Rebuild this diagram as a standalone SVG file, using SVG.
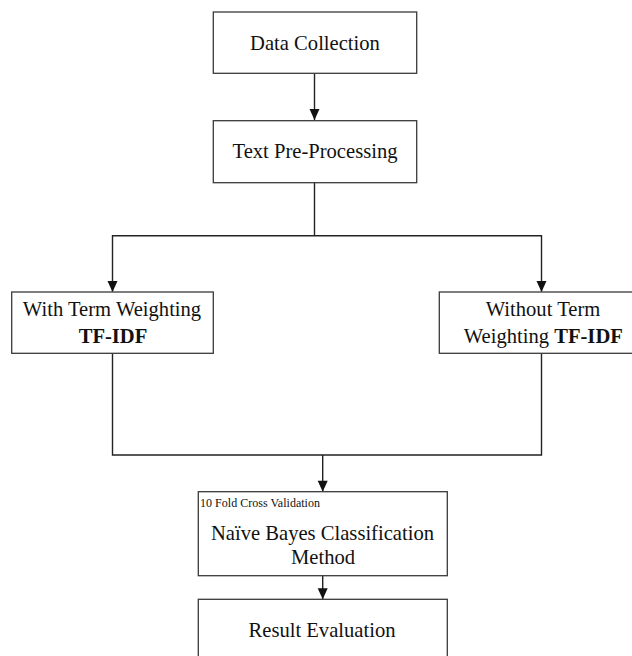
<svg xmlns="http://www.w3.org/2000/svg" width="632" height="656" viewBox="0 0 632 656">
<style>
.box{fill:#fff;stroke:#3a3a3a;stroke-width:1.3}
.t{font-family:"Liberation Serif","Times New Roman",serif;font-size:20.6px;fill:#111;text-anchor:middle}
.b{font-weight:bold}
.s{font-family:"Liberation Serif","Times New Roman",serif;font-size:12px;fill:#111}
.c{fill:none;stroke:#222;stroke-width:1.4}
</style>
<defs>
<marker id="ah" markerWidth="10" markerHeight="11" refX="5" refY="11" orient="auto-start-reverse" markerUnits="userSpaceOnUse" viewBox="0 0 10 11">
<path d="M0,0 L10,0 L5,11 Z" fill="#111" transform="rotate(0)"/>
</marker>
</defs>
<rect width="632" height="656" fill="#fff"/>
<g id="connectors">
<line class="c" x1="314.5" y1="73.3" x2="314.5" y2="120"/>
<path d="M314.5,120 l-5,-11 h10 z" fill="#111"/>
<polyline class="c" points="314.5,182.7 314.5,235.7"/>
<polyline class="c" points="112.5,291.5 112.5,235.7 541.5,235.7 541.5,291.5"/>
<path d="M112.5,292 l-5,-11 h10 z" fill="#111"/>
<path d="M541.5,292 l-5,-11 h10 z" fill="#111"/>
<polyline class="c" points="112.5,353.3 112.5,455 541.5,455 541.5,353.3"/>
<line class="c" x1="322.7" y1="455" x2="322.7" y2="491"/>
<path d="M322.7,491.7 l-5,-11 h10 z" fill="#111"/>
<line class="c" x1="322.7" y1="575.7" x2="322.7" y2="599"/>
<path d="M322.7,599.3 l-5,-11 h10 z" fill="#111"/>
</g>
<g id="data-collection">
<rect class="box" x="213.3" y="12" width="203.4" height="61.3"/>
<text class="t" x="315" y="50">Data Collection</text>
</g>
<g id="text-preprocessing">
<rect class="box" x="213.3" y="120.7" width="203.4" height="62"/>
<text class="t" x="315" y="158.3">Text Pre-Processing</text>
</g>
<g id="with-tfidf">
<rect class="box" x="11.7" y="292" width="201.6" height="61.3"/>
<text class="t" x="112" y="316">With Term Weighting</text>
<text class="t b" x="113" y="343.3">TF-IDF</text>
</g>
<g id="without-tfidf">
<rect class="box" x="439.3" y="292" width="210" height="61.3"/>
<text class="t" x="543" y="316">Without Term</text>
<text class="t" x="543.3" y="343.3">Weighting <tspan class="b">TF-IDF</tspan></text>
</g>
<g id="naive-bayes">
<rect class="box" x="198.3" y="491.7" width="249" height="84"/>
<text class="s" x="200" y="507.3" textLength="120" lengthAdjust="spacing">10 Fold Cross Validation</text>
<text class="t" x="322.5" y="540">Naïve Bayes Classification</text>
<text class="t" x="323" y="564">Method</text>
</g>
<g id="result-evaluation">
<rect class="box" x="198.3" y="599.3" width="249" height="80"/>
<text class="t" x="322" y="636.7">Result Evaluation</text>
</g>
</svg>
